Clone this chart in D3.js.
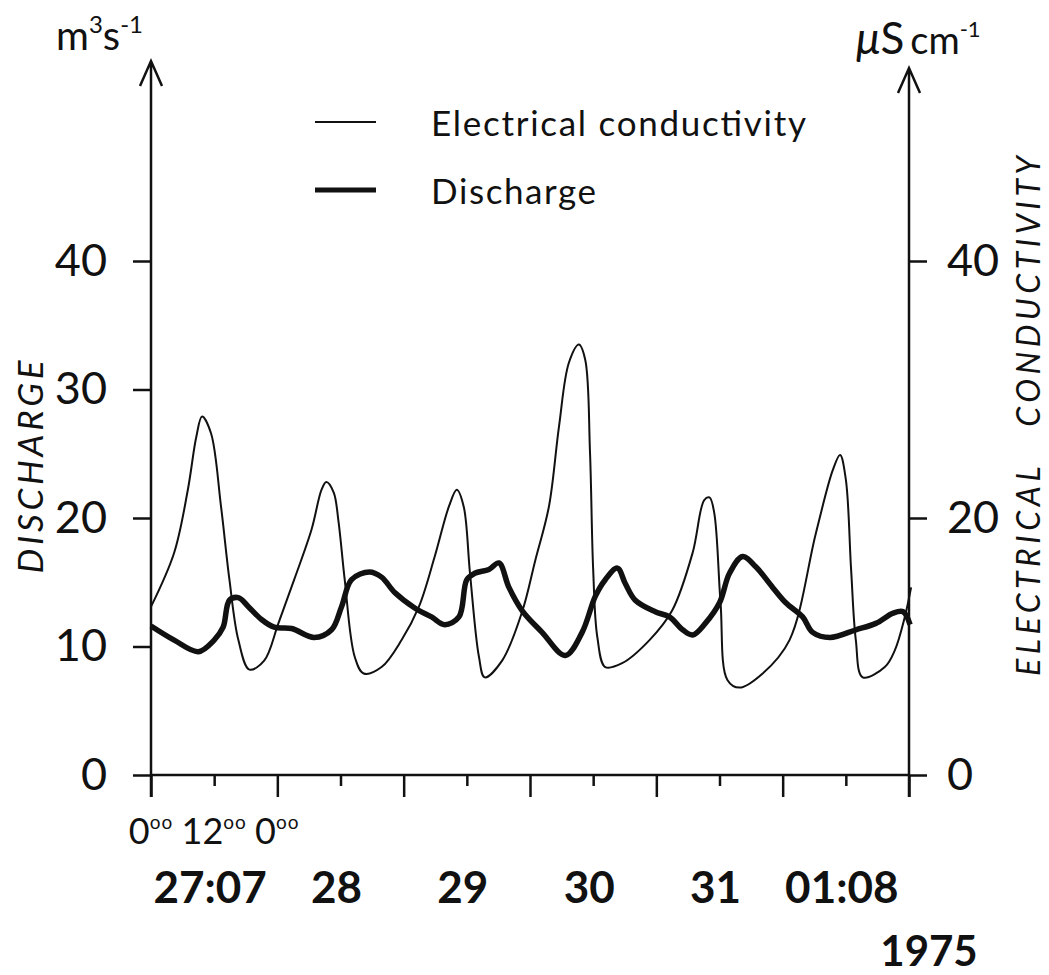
<!DOCTYPE html>
<html><head><meta charset="utf-8">
<script src="https://cdn.jsdelivr.net/npm/d3@7"></script>
<style>
html,body{margin:0;padding:0;background:#fff;}
svg{display:block;}
text{font-family:Lato,"Open Sans",sans-serif;fill:#111;}
</style></head>
<body>
<svg id="chart" width="1049" height="975"></svg>
<script>
// ---- data (hours since 27 July 1975 00:00) ----
const condHours = [0,4.4,7.0,8.6,9.7,11.4,13.3,14.9,16.6,18.7,21.5,24.2,27.2,30.5,32.4,33.3,34.7,35.6,36.8,38.7,40.4,43.8,47.6,50.9,53.9,56.6,58.1,59.4,60.6,62.3,63.4,66.7,70.5,73.0,75.6,77.5,79.4,81.3,82.5,83.4,84.0,84.8,86.3,89.5,94.7,99.0,102.9,105.1,106.1,107.0,108.2,109.5,111.8,116.2,121.3,126.3,129.5,130.9,132.0,133.0,133.9,135.2,139.4,141.3,143.2,144.4];
const condValues = [13.1,17.3,22.2,26.3,27.9,26.6,20.9,15.2,10.5,8.2,8.9,11.8,15.2,19.1,22.2,22.8,22.0,19.8,15.2,9.2,7.9,8.4,10.5,13.1,17.0,20.9,22.2,20.9,15.7,9.2,7.6,8.9,12.7,16.7,20.9,27.1,32.1,33.5,32.3,25.1,16.0,10.7,8.4,8.7,10.5,12.8,17.3,21.4,21.6,20.4,13.4,7.4,6.8,7.9,10.5,18.8,23.7,24.9,23.0,16.0,10.5,7.6,8.4,9.7,12.3,14.6];
const dischHours = [0,4.4,9.0,12.0,13.7,14.9,16.6,18.5,21.0,23.4,26.7,31.0,34.3,36.2,38.1,41.5,43.8,46.3,50.1,53.3,55.8,58.5,60.0,61.5,64.2,66.1,68.0,70.5,74.3,78.7,81.9,84.4,86.3,88.6,90.1,92.0,95.8,98.5,101.0,102.9,105.3,108.0,109.9,112.4,114.9,118.1,120.6,123.8,125.7,129.0,133.9,137.7,141.0,142.9,144.2];
const dischValues = [11.6,10.5,9.6,10.5,11.5,13.6,13.8,13.1,12.1,11.5,11.4,10.7,11.3,13.1,15.2,15.8,15.4,14.2,13.0,12.3,11.7,12.3,15.2,15.7,16.0,16.5,14.6,12.8,11.1,9.3,11.1,13.9,15.2,16.1,14.9,13.6,12.7,12.3,11.3,10.9,11.8,13.4,15.7,17.0,16.2,14.6,13.4,12.3,11.1,10.7,11.3,11.8,12.6,12.7,11.7];
const leftTicks = [0,10,20,30,40];
const rightTicks = [0,20,40];
const timeTicks = [0,12,24,36,48,60,72,84,96,108,120,132,144];
const hourLabels = [{h:0,t:"0"},{h:12,t:"12"},{h:24,t:"0"}];
const dayLabels = [{h:12,t:"27:07"},{h:36,t:"28"},{h:60,t:"29"},{h:84,t:"30"},{h:108,t:"31"},{h:132,t:"01:08"}];
const yearLabel = "1975";
const legendItems = [{name:"Electrical conductivity",w:2},{name:"Discharge",w:5}];

// ---- chart ----
const svg = d3.select("#chart");
const x = d3.scaleLinear().domain([0,144]).range([151,909]);
const yL = d3.scaleLinear().domain([0,40]).range([775,261]);
const yR = d3.scaleLinear().domain([0,40]).range([775,261]);
const ink = "#111";

// axes
const gL = svg.append("g").attr("transform","translate(151,0)")
  .call(d3.axisLeft(yL).tickValues(leftTicks).tickSize(18).tickPadding(26));
const gR = svg.append("g").attr("transform","translate(909,0)")
  .call(d3.axisRight(yR).tickValues(rightTicks).tickSize(18).tickPadding(20));
const gB = svg.append("g").attr("transform","translate(0,775)")
  .call(d3.axisBottom(x).tickValues(timeTicks).tickSize(22).tickFormat(""));
[gL,gR,gB].forEach(g=>{
  g.select(".domain").remove();
  g.selectAll(".tick line").attr("stroke",ink).attr("stroke-width",2.5);
});
gL.selectAll(".tick text").attr("font-size",45).attr("fill",ink).attr("font-family","Lato");
gR.selectAll(".tick text").attr("font-size",45).attr("fill",ink).attr("font-family","Lato");
gB.selectAll(".tick line").attr("y2",d=>d%24===0?22:11);

// axis lines + arrows
svg.append("path").attr("d",`M${x(0)},797V62 M140,86L${x(0)},61L162,86`)
  .attr("fill","none").attr("stroke",ink).attr("stroke-width",2.5);
svg.append("path").attr("d",`M${x(144)},797V69 M898,93L${x(144)},68L920,93`)
  .attr("fill","none").attr("stroke",ink).attr("stroke-width",2.5);
svg.append("path").attr("d",`M${x(0)},775H${x(144)}`)
  .attr("fill","none").attr("stroke",ink).attr("stroke-width",2.5);

// lines
const lineC = d3.line().x((d,i)=>x(condHours[i])).y(d=>yR(d)).curve(d3.curveCatmullRom.alpha(0.5));
const lineD = d3.line().x((d,i)=>x(dischHours[i])).y(d=>yL(d)).curve(d3.curveCatmullRom.alpha(0.5));
svg.append("path").attr("d",lineC(condValues)).attr("fill","none").attr("stroke",ink).attr("stroke-width",2);
svg.append("path").attr("d",lineD(dischValues)).attr("fill","none").attr("stroke",ink).attr("stroke-width",5.5).attr("stroke-linejoin","round");

// hour labels
hourLabels.forEach(d=>{
  const t = svg.append("text").attr("x",x(d.h)).attr("y",844).attr("text-anchor","middle").attr("font-size",36);
  t.append("tspan").text(d.t);
  t.append("tspan").attr("font-size",19).attr("dy",-15).attr("letter-spacing",1).text("oo");
});
// day labels
svg.selectAll(".day").data(dayLabels).join("text").attr("class","day")
  .attr("x",d=>x(d.h)-4).attr("y",903).attr("text-anchor","middle")
  .attr("font-size",44).attr("font-weight","bold").text(d=>d.t);
svg.append("text").attr("x",929).attr("y",966).attr("text-anchor","middle")
  .attr("font-size",42).attr("font-weight","bold").text(yearLabel);

// units
const u1 = svg.append("text").attr("x",56).attr("y",50).attr("font-size",40);
u1.append("tspan").text("m");
u1.append("tspan").attr("font-size",24).attr("dy",-17).text("3");
u1.append("tspan").attr("dy",17).text("s");
u1.append("tspan").attr("font-size",24).attr("dy",-17).text("-1");
const u2 = svg.append("text").attr("x",856).attr("y",54).attr("font-size",44);
u2.append("tspan").attr("font-style","italic").text("μ");
u2.append("tspan").text("S");
u2.append("tspan").attr("font-size",38).attr("dx",6).text("cm");
u2.append("tspan").attr("font-size",22).attr("dy",-17).text("-1");

// axis titles
svg.append("text").attr("transform","translate(43,467) rotate(-90)").attr("text-anchor","middle")
  .attr("font-size",35).attr("font-style","italic").attr("textLength",213).attr("lengthAdjust","spacing").text("DISCHARGE");
svg.append("text").attr("transform","translate(1040,416) rotate(-90)").attr("text-anchor","middle")
  .attr("font-size",32).attr("font-style","italic").attr("textLength",520).attr("lengthAdjust","spacing").attr("xml:space","preserve").text("ELECTRICAL   CONDUCTIVITY");

// legend
const leg = svg.append("g");
legendItems.forEach((d,i)=>{
  const yy = 122 + i*68;
  leg.append("line").attr("x1",315).attr("x2",376).attr("y1",yy).attr("y2",yy).attr("stroke",ink).attr("stroke-width",d.w);
  leg.append("text").attr("x",431).attr("y",yy+14).attr("font-size",35)
    .attr("textLength", i===0?375:165).attr("lengthAdjust","spacing").text(d.name);
});
</script>
</body></html>
